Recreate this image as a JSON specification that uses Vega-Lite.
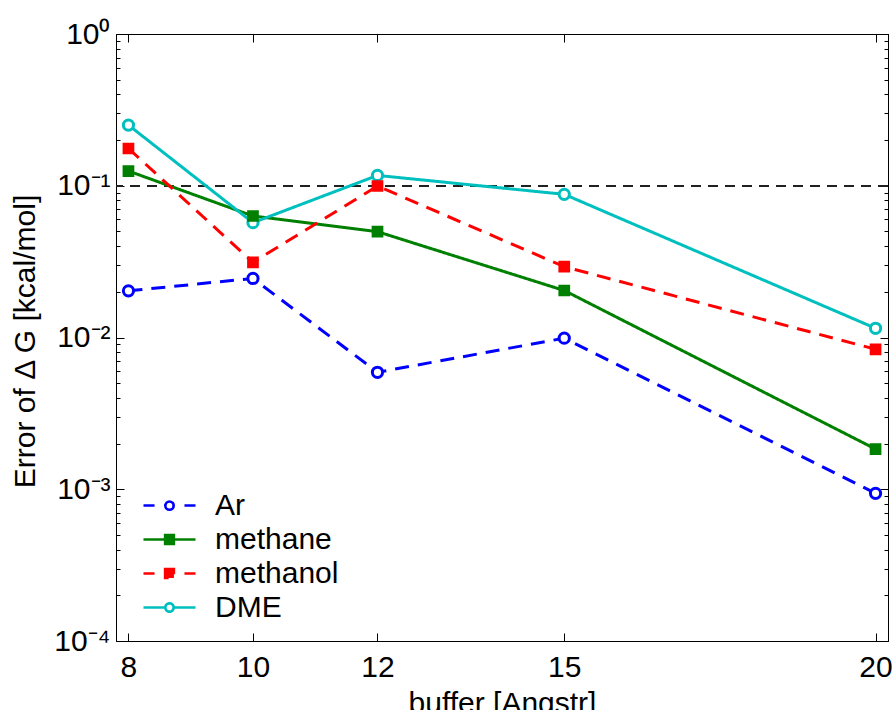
{
  "$schema": "https://vega.github.io/schema/vega-lite/v6.json",
  "width": 772,
  "height": 607,
  "autosize": {"type": "none"},
  "padding": {"left": 116, "top": 34, "right": 6, "bottom": 69},
  "background": "white",
  "config": {
    "view": {"stroke": "black", "strokeWidth": 1},
    "font": "Liberation Sans",
    "axis": {
      "labelFont": "Liberation Sans",
      "labelFontSize": 30,
      "labelColor": "black",
      "titleFont": "Liberation Sans",
      "titleFontSize": 30,
      "titleFontWeight": "normal",
      "titleColor": "black",
      "domainColor": "black",
      "tickColor": "black",
      "grid": false,
      "labelFlush": false,
      "labelOverlap": false
    },
    "legend": {
      "labelFont": "Liberation Sans",
      "labelFontSize": 30,
      "labelColor": "black"
    }
  },
  "data": {
    "values": [
      {"buffer": 8, "err": 0.0203, "series": "Ar"},
      {"buffer": 10, "err": 0.0245, "series": "Ar"},
      {"buffer": 12, "err": 0.0059, "series": "Ar"},
      {"buffer": 15, "err": 0.0099, "series": "Ar"},
      {"buffer": 20, "err": 0.00094, "series": "Ar"},
      {"buffer": 8, "err": 0.125, "series": "methane"},
      {"buffer": 10, "err": 0.0632, "series": "methane"},
      {"buffer": 12, "err": 0.0498, "series": "methane"},
      {"buffer": 15, "err": 0.0204, "series": "methane"},
      {"buffer": 20, "err": 0.00184, "series": "methane"},
      {"buffer": 8, "err": 0.176, "series": "methanol"},
      {"buffer": 10, "err": 0.0313, "series": "methanol"},
      {"buffer": 12, "err": 0.0996, "series": "methanol"},
      {"buffer": 15, "err": 0.0293, "series": "methanol"},
      {"buffer": 20, "err": 0.00836, "series": "methanol"},
      {"buffer": 8, "err": 0.251, "series": "DME"},
      {"buffer": 10, "err": 0.0571, "series": "DME"},
      {"buffer": 12, "err": 0.117, "series": "DME"},
      {"buffer": 15, "err": 0.0878, "series": "DME"},
      {"buffer": 20, "err": 0.0115, "series": "DME"}
    ]
  },
  "resolve": {"scale": {"x": "independent", "y": "independent"}},
  "layer": [
    {
      "encoding": {
        "x": {
          "field": "buffer",
          "type": "quantitative",
          "scale": {"domain": [7.8, 20.2], "nice": false, "zero": false},
          "axis": {
            "orient": "bottom",
            "values": [8, 10, 12, 15, 20],
            "tickSize": -8,
            "labelPadding": 19,
            "title": "buffer [Angstr]",
            "titleBaseline": "alphabetic",
            "titleY": 71,
            "titleX": 386
          }
        },
        "y": {
          "field": "err",
          "type": "quantitative",
          "scale": {"type": "log", "domain": [0.0001, 1], "nice": false},
          "axis": {
            "orient": "left",
            "values": [0.0001,0.0002,0.0003,0.0004,0.0005,0.0006,0.0007,0.0008,0.0009,0.001,0.002,0.003,0.004,0.005,0.006,0.007,0.008,0.009,0.01,0.02,0.03,0.04,0.05,0.06,0.07,0.08,0.09,0.1,0.2,0.3,0.4,0.5,0.6,0.7,0.8,0.9,1],
            "labelExpr": "indexof([1,0.1,0.01,0.001,0.0001], datum.value) >= 0 ? ['10⁰','10⁻¹','10⁻²','10⁻³','10⁻⁴'][indexof([1,0.1,0.01,0.001,0.0001], datum.value)] : ''",
            "tickSize": {"condition": {"test": "indexof([1,0.1,0.01,0.001,0.0001], datum.value) >= 0", "value": -8}, "value": -4},
            "labelPadding": 14,
            "title": "Error of Δ G [kcal/mol]",
            "titleBaseline": "alphabetic",
            "titleX": -82,
            "titleY": 307
          }
        }
      },
      "layer": [
        {
          "mark": {"type": "rule", "color": "#222222", "strokeWidth": 1, "strokeDash": [10, 7]},
          "encoding": {"y": {"datum": 0.1}, "x": null}
        },
        {
          "mark": {"type": "line", "strokeWidth": 3},
          "encoding": {
            "color": {
              "field": "series",
              "type": "nominal",
              "scale": {"domain": ["Ar", "methane", "methanol", "DME"], "range": ["#0000FF", "#008000", "#FF0000", "#00BFBF"]},
              "legend": {
                "title": null,
                "orient": "none",
                "legendX": 35,
                "legendY": 453,
                "padding": 0,
                "rowPadding": 0,
                "symbolSize": 1156,
                "symbolStrokeWidth": 2.5,
                "labelOffset": 27,
                "labelBaseline": "middle",
                "encode": {
                  "symbols": {
                    "update": {
                      "shape": {"signal": "datum.value == 'Ar' ? 'M-1.53,0H-0.88M0.88,0H1.53M0.25,0A0.25,0.25 0 1,1 -0.25,0A0.25,0.25 0 1,1 0.25,0ZM0.24,0A0.24,0.24 0 1,0 -0.24,0A0.24,0.24 0 1,0 0.24,0Z' : datum.value == 'methane' ? 'M-1.53,0H-0.26M0.26,0H1.53M-0.26,-0.26H0.26V0.26H-0.26Z' : datum.value == 'methanol' ? 'M-1.53,0H-0.88M0.88,0H1.53M-0.26,-0.26H0.26V0.26H-0.26Z' : 'M-1.53,0H-0.25M0.25,0H1.53M0.25,0A0.25,0.25 0 1,1 -0.25,0A0.25,0.25 0 1,1 0.25,0ZM0.24,0A0.24,0.24 0 1,0 -0.24,0A0.24,0.24 0 1,0 0.24,0Z'"},
                      "fill": {"signal": "datum.value == 'methane' ? '#008000' : datum.value == 'methanol' ? '#FF0000' : 'white'"},
                      "strokeDash": {"value": [1, 0]},
                      "strokeWidth": {"value": 2.5},
                      "opacity": {"value": 1}
                    }
                  }
                }
              }
            },
            "strokeDash": {
              "field": "series",
              "type": "nominal",
              "scale": {"domain": ["Ar", "methane", "methanol", "DME"], "range": [[14, 9], [1, 0], [14, 9], [1, 0]]},
              "legend": null
            }
          }
        },
        {
          "transform": [{"filter": {"field": "series", "oneOf": ["Ar", "DME"]}}],
          "mark": {"type": "point", "shape": "circle", "size": 105, "strokeWidth": 3, "fill": "white", "filled": false, "opacity": 1},
          "encoding": {
            "stroke": {
              "field": "series",
              "type": "nominal",
              "scale": {"domain": ["Ar", "methane", "methanol", "DME"], "range": ["#0000FF", "#008000", "#FF0000", "#00BFBF"]},
              "legend": null
            }
          }
        },
        {
          "transform": [{"filter": {"field": "series", "oneOf": ["methane", "methanol"]}}],
          "mark": {"type": "point", "shape": "square", "size": 85, "strokeWidth": 2.5, "filled": true, "opacity": 1},
          "encoding": {
            "stroke": {
              "field": "series",
              "type": "nominal",
              "scale": {"domain": ["Ar", "methane", "methanol", "DME"], "range": ["#0000FF", "#008000", "#FF0000", "#00BFBF"]},
              "legend": null
            },
            "fill": {
              "field": "series",
              "type": "nominal",
              "scale": {"domain": ["Ar", "methane", "methanol", "DME"], "range": ["#0000FF", "#008000", "#FF0000", "#00BFBF"]},
              "legend": null
            }
          }
        }
      ]
    },
    {
      "mark": {"type": "point", "opacity": 0},
      "encoding": {
        "x": {
          "field": "buffer",
          "type": "quantitative",
          "scale": {"domain": [7.8, 20.2], "nice": false, "zero": false},
          "axis": {"orient": "top", "values": [8, 10, 12, 15, 20], "tickSize": -8, "labels": false, "title": null}
        },
        "y": {
          "field": "err",
          "type": "quantitative",
          "scale": {"type": "log", "domain": [0.0001, 1], "nice": false},
          "axis": {
            "orient": "right",
            "values": [0.0001,0.0002,0.0003,0.0004,0.0005,0.0006,0.0007,0.0008,0.0009,0.001,0.002,0.003,0.004,0.005,0.006,0.007,0.008,0.009,0.01,0.02,0.03,0.04,0.05,0.06,0.07,0.08,0.09,0.1,0.2,0.3,0.4,0.5,0.6,0.7,0.8,0.9,1],
            "tickSize": {"condition": {"test": "indexof([1,0.1,0.01,0.001,0.0001], datum.value) >= 0", "value": -8}, "value": -4},
            "labels": false,
            "title": null
          }
        }
      }
    }
  ]
}
